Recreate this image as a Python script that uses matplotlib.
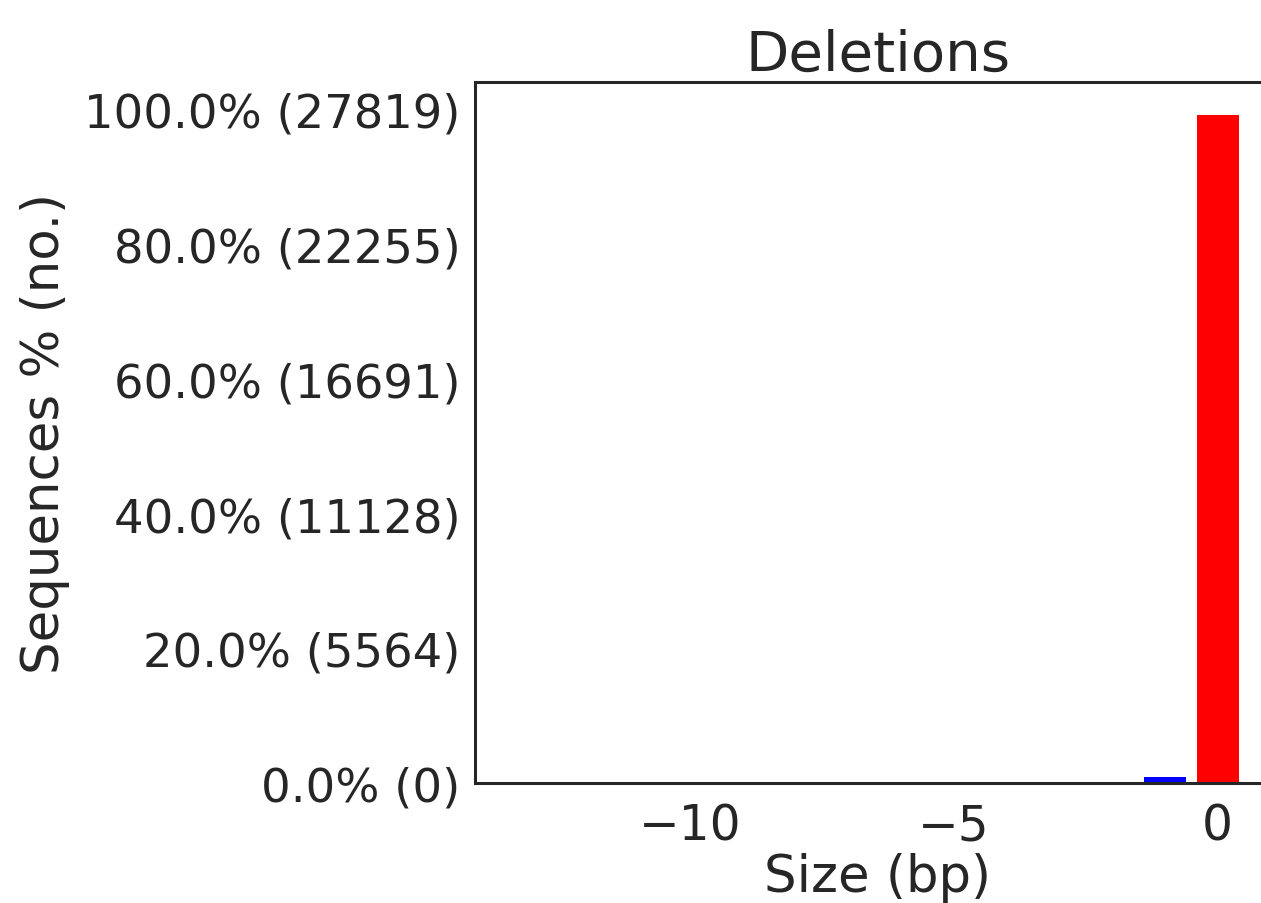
import matplotlib
matplotlib.use("Agg")
import matplotlib.pyplot as plt
import seaborn as sns
import numpy as np

sns.set_style("white")
plt.rcParams['font.family'] = ['DejaVu Sans']

# deletion sizes and read counts
sizes = [-1, 0]
counts = [250, 27569]
colors = ['blue', 'red']
total = 27819
pct_ticks = [0.0, 20.0, 40.0, 60.0, 80.0, 100.0]

fig = plt.figure(figsize=(12.61, 9.04), dpi=100)
# axes runs a bit past the right edge of the figure, like the cropped original
ax = fig.add_axes([475 / 1261, 120 / 904, 806 / 1261, 701 / 904])

ax.bar(sizes, counts, width=0.8, color=colors, align='center', linewidth=0)

ax.set_xlim(-14.07, 1.2)
ax.set_ylim(0, max(counts) * 1.05)

ytick_vals = [round(total * p / 100.0) for p in pct_ticks]
ax.set_yticks(ytick_vals)
ax.set_yticklabels(['%.1f%% (%d)' % (p, v) for p, v in zip(pct_ticks, ytick_vals)])
ax.set_xticks([-10, -5, 0])
ax.set_xticklabels(['\u221210', '\u22125', '0'])

ax.tick_params(axis='y', labelsize=33.5, length=0, pad=10.5, colors='#262626')
ax.tick_params(axis='x', labelsize=35, length=0, pad=13, colors='#262626')
ax.set_title('Deletions', fontsize=40.5, color='#262626', pad=9)
ax.set_xlabel('Size (bp)', fontsize=37, color='#262626', labelpad=2)
ax.set_ylabel('Sequences % (no.)', fontsize=37, color='#262626', labelpad=10)

for s in ax.spines.values():
    s.set_color('#262626')
    s.set_linewidth(2.2)

fig.savefig('out.png', dpi=100)
